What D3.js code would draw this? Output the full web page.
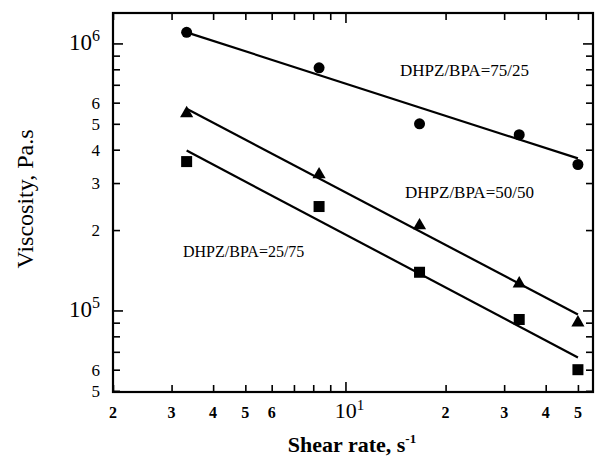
<!DOCTYPE html>
<html lang="en">

<head>
    <meta charset="UTF-8">
    <title>Viscosity vs shear rate</title>
    <script src="https://d3js.org/d3.v7.min.js"></script>
    <style>
        body { margin: 0; background: #fff; }
        text { font-family: "Liberation Serif", "Times New Roman", serif; fill: #000; }
    </style>
</head>

<body>
    <script>
        // shear rate values (s^-1)
        var shearRates = [3.33, 8.33, 16.7, 33.3, 50]

        // measured viscosity (Pa.s) for each blend
        var visc7525 = [1.10e6, 8.1e5, 5.0e5, 4.55e5, 3.52e5]
        var visc5050 = [5.47e5, 3.23e5, 2.08e5, 1.26e5, 9.0e4]
        var visc2575 = [3.61e5, 2.45e5, 1.39e5, 9.25e4, 6.0e4]

        // power-law fit lines: [shear rate, viscosity] at both ends
        var fit7525 = [[3.33, 1.10e6], [50, 3.71e5]]
        var fit5050 = [[3.33, 5.69e5], [50, 9.66e4]]
        var fit2575 = [[3.33, 3.97e5], [50, 6.67e4]]

        var seriesNames = ["DHPZ/BPA=75/25", "DHPZ/BPA=50/50", "DHPZ/BPA=25/75"]

        // tick values and labels
        var xTicks = [2, 3, 4, 5, 6, 7, 8, 9, 10, 20, 30, 40, 50]
        var xLabels = [[2, "2"], [3, "3"], [4, "4"], [5, "5"], [6, "6"], [10, "10", "1"], [20, "2"], [30, "3"], [40, "4"], [50, "5"]]
        var yTicks = [5e4, 6e4, 7e4, 8e4, 9e4, 1e5, 2e5, 3e5, 4e5, 5e5, 6e5, 7e5, 8e5, 9e5, 1e6]
        var yLabels = [[1e6, "10", "6"], [6e5, "6"], [5e5, "5"], [4e5, "4"], [3e5, "3"], [2e5, "2"], [1e5, "10", "5"], [6e4, "6"], [5e4, "5"]]

        var width = 595
        var height = 458
        var margin = { left: 113, right: 2, top: 13, bottom: 66 }
        var w = width - margin.left - margin.right
        var h = height - margin.top - margin.bottom

        var svg = d3.select("body").append("svg")
            .attr("width", width)
            .attr("height", height)

        var g = svg.append("g")
            .attr("transform", "translate(" + margin.left + "," + margin.top + ")")

        var xScale = d3.scaleLog().domain([2, 55.5]).range([0, w])
        var yScale = d3.scaleLog().domain([4.95e4, 1.3e6]).range([h, 0])

        // ticks pointing inward on all four sides
        function tickLen(v) {
            return (v === 10 || v === 1e5 || v === 1e6) ? 10 : 7
        }

        var axes = [
            [d3.axisBottom(xScale).tickValues(xTicks), "translate(0," + h + ")"],
            [d3.axisTop(xScale).tickValues(xTicks), "translate(0,0)"],
            [d3.axisLeft(yScale).tickValues(yTicks), "translate(0,0)"],
            [d3.axisRight(yScale).tickValues(yTicks), "translate(" + w + ",0)"]
        ]
        axes.forEach(function (a) {
            var ax = g.append("g")
                .attr("transform", a[1])
                .call(a[0].tickFormat("").tickSizeOuter(0))
            ax.select(".domain").remove()
            ax.selectAll(".tick line")
                .attr("stroke", "#000")
                .attr("stroke-width", 1.6)
            ax.selectAll(".tick text").remove()
        })
        g.selectAll(".tick line").each(function (d) {
            var el = d3.select(this)
            var len = tickLen(d)
            if (el.attr("y2") !== null && +el.attr("y2") !== 0) {
                el.attr("y2", el.attr("y2") > 0 ? -len : len)
            } else {
                el.attr("x2", el.attr("x2") > 0 ? -len : len)
            }
        })

        // frame
        g.append("rect")
            .attr("width", w)
            .attr("height", h)
            .attr("fill", "none")
            .attr("stroke", "#000")
            .attr("stroke-width", 2.2)

        // x tick labels
        xLabels.forEach(function (l) {
            var t = g.append("text")
                .attr("x", xScale(l[0]))
                .attr("y", h + 26)
                .attr("text-anchor", "middle")
            if (l[2]) {
                t.attr("font-size", 22).attr("dx", 4)
                t.append("tspan").text(l[1])
                t.append("tspan").attr("font-size", 15).attr("dy", -8).text(l[2])
            } else {
                t.attr("font-size", 16).attr("font-weight", "bold").text(l[1])
            }
        })

        // y tick labels
        yLabels.forEach(function (l) {
            var t = g.append("text")
                .attr("x", -13)
                .attr("y", yScale(l[0]))
                .attr("text-anchor", "end")
            if (l[2]) {
                t.attr("font-size", 23).attr("dy", 7)
                t.append("tspan").text(l[1])
                t.append("tspan").attr("font-size", 16).attr("dy", -9).text(l[2])
            } else {
                t.attr("font-size", 17).attr("dy", 6).text(l[1])
            }
        })

        // axis titles
        svg.append("text")
            .attr("transform", "translate(33,199) rotate(-90)")
            .attr("text-anchor", "middle")
            .attr("font-size", 24)
            .text("Viscosity, Pa.s")

        var xt = svg.append("text")
            .attr("x", 352)
            .attr("y", 452)
            .attr("text-anchor", "middle")
            .attr("font-size", 22)
            .attr("font-weight", "bold")
        xt.append("tspan").text("Shear rate, s")
        xt.append("tspan").attr("font-size", 13).attr("dy", -9).text("-1")

        // fit lines
        var line = d3.line()
            .x(function (d) { return xScale(d[0]) })
            .y(function (d) { return yScale(d[1]) })
        ;[fit7525, fit5050, fit2575].forEach(function (f) {
            g.append("path")
                .attr("d", line(f))
                .attr("fill", "none")
                .attr("stroke", "#000")
                .attr("stroke-width", 2.2)
        })

        // markers
        var pts = function (vals) {
            return vals.map(function (v, i) { return [shearRates[i], v] })
        }
        g.append("g").selectAll("circle")
            .data(pts(visc7525))
            .enter().append("circle")
            .attr("cx", function (d) { return xScale(d[0]) })
            .attr("cy", function (d) { return yScale(d[1]) })
            .attr("r", 5.5)
            .attr("fill", "#000")

        var tri = d3.symbol().type(d3.symbolTriangle).size(75)
        g.append("g").selectAll("path")
            .data(pts(visc5050))
            .enter().append("path")
            .attr("d", tri)
            .attr("transform", function (d) { return "translate(" + xScale(d[0]) + "," + yScale(d[1]) + ")" })
            .attr("fill", "#000")

        g.append("g").selectAll("rect")
            .data(pts(visc2575))
            .enter().append("rect")
            .attr("x", function (d) { return xScale(d[0]) - 5.5 })
            .attr("y", function (d) { return yScale(d[1]) - 5.5 })
            .attr("width", 11)
            .attr("height", 11)
            .attr("fill", "#000")

        // series labels
        var labelPos = [[400, 76, 17], [405, 198, 17], [183, 257, 16]]
        seriesNames.forEach(function (s, i) {
            svg.append("text")
                .attr("x", labelPos[i][0])
                .attr("y", labelPos[i][1])
                .attr("font-size", labelPos[i][2])
                .text(s)
        })
    </script>

</body>

</html>
